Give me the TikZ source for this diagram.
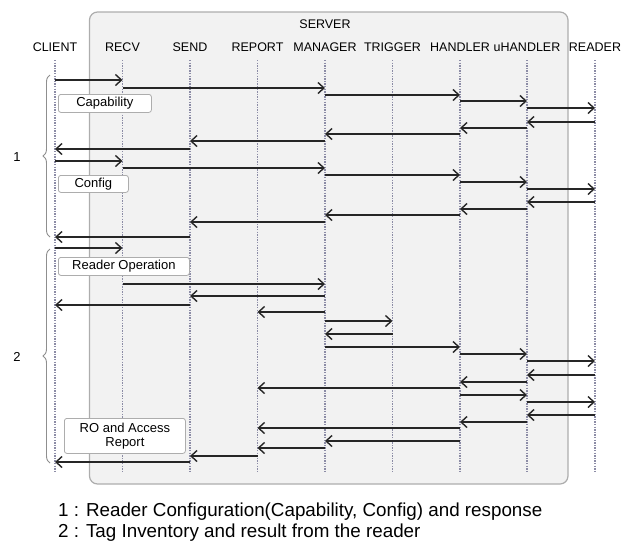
\documentclass[tikz,border=0pt]{standalone}
\usepackage{fontspec}
\setmainfont{Liberation Sans}
\usetikzlibrary{arrows.meta,decorations.pathreplacing}

\definecolor{boxgray}{HTML}{F2F2F2}
\definecolor{framegray}{HTML}{ADADAD}
\definecolor{linegray}{HTML}{8C8CA6}
\definecolor{bracegray}{HTML}{8F8F8F}

\tikzset{
  head/.style={font=\fontsize{12.5}{14}\selectfont, inner sep=1pt},
  lifeline/.style={linegray, line width=1.3pt, dash pattern=on 1.3pt off 1.3pt},
  msg/.style={line width=1.4pt, black!85, -{Straight Barb[length=6pt,width=11pt]}},
  note/.style={draw=framegray, fill=white, rounded corners=2.5pt, line width=0.8pt,
               font=\fontsize{13}{14}\selectfont, inner sep=1pt, align=center,
               anchor=north west},
  groupbrace/.style={bracegray, line width=0.9pt, decorate,
                     decoration={brace, amplitude=7pt}},
}

\begin{document}
\begin{tikzpicture}[x=1pt, y=-1pt]
\useasboundingbox (0,0) rectangle (623,542);

% server frame
\draw[framegray, fill=boxgray, line width=1.2pt, rounded corners=8pt]
  (89.5,12) rectangle (568,484);
\node[head] at (325,24) (server) {SERVER};

% column heads
\coordinate (hbase) at (0,47);
\path (hbase) +(55,0)    node[head] (client)   {CLIENT}
              +(122.5,0) node[head] (recv)     {RECV}
              +(190,0)   node[head] (send)     {SEND}
              +(257.5,0) node[head] (report)   {REPORT}
              +(325,0)   node[head] (manager)  {MANAGER}
              +(392.5,0) node[head] (trigger)  {TRIGGER}
              +(460,0)   node[head] (handler)  {HANDLER}
              +(527,0)   node[head] (uhandler) {uHANDLER}
              +(595,0)   node[head] (reader)   {READER}
;

\foreach \x in {client,recv,send,report,manager,trigger,handler,uhandler,reader}
  {\draw[lifeline] (\x |- 0,60) -- (\x |- 0,473);}

% notes
\node[note, minimum width=93pt, minimum height=18pt] at (58,94)  (capability) {Capability};
\node[note, minimum width=70pt, minimum height=17pt] at (58,175) (config)     {Config};
\node[note, minimum width=131pt, minimum height=18pt] at (58,257) (readerop)  {Reader Operation};
\node[note, minimum width=121pt, minimum height=35pt] at (64,418) (roreport)  {RO and Access\\Report};

% reader configuration
\foreach \y/\a/\b in {80/client/recv, 88/recv/manager, 95/manager/handler,
    101/handler/uhandler, 108/uhandler/reader, 122/reader/uhandler,
    128/uhandler/handler, 134/handler/manager, 141/manager/send,
    149/send/client, 161/client/recv, 168/recv/manager,
    175/manager/handler, 182/handler/uhandler, 189/uhandler/reader,
    202/reader/uhandler, 209/uhandler/handler, 215/handler/manager,
    222/manager/send, 237/send/client}
  {\draw[msg] (\a |- 0,\y) -- (\b |- 0,\y);}

% tag inventory
\foreach \y/\a/\b in {248/client/recv, 284/recv/manager, 296/manager/send,
    305/send/client, 312/manager/report, 321/manager/trigger,
    334/trigger/manager, 347/manager/handler, 354/handler/uhandler,
    361/uhandler/reader, 375/reader/uhandler, 382/uhandler/handler,
    388/handler/report, 395/handler/uhandler, 402/uhandler/reader,
    415/reader/uhandler, 422/uhandler/handler, 428/handler/report,
    441/handler/manager, 448/manager/report, 456/report/send,
    462/send/client}
  {\draw[msg] (\a |- 0,\y) -- (\b |- 0,\y);}

% groups
\coordinate (gonetop) at (50,75);
\coordinate (gonebot) at (50,237);
\coordinate (gtwotop) at (50,249);
\coordinate (gtwobot) at (50,463);
\draw[groupbrace] (gonebot) -- (gonetop);
\draw[groupbrace] (gtwobot) -- (gtwotop);
\node[head, font=\fontsize{13}{14}\selectfont] at (17,157) (gone) {1};
\node[head, font=\fontsize{13}{14}\selectfont] at (17,357) (gtwo) {2};

% legend
\node[anchor=west, inner sep=0pt, font=\fontsize{18.8}{20}\selectfont] at (58,512) (legendone)
  {1 : Reader Configuration(Capability, Config) and response};
\node[anchor=west, inner sep=0pt, font=\fontsize{18.8}{20}\selectfont] at (58,533) (legendtwo)
  {2 : Tag Inventory and result from the reader};

\end{tikzpicture}
\end{document}
